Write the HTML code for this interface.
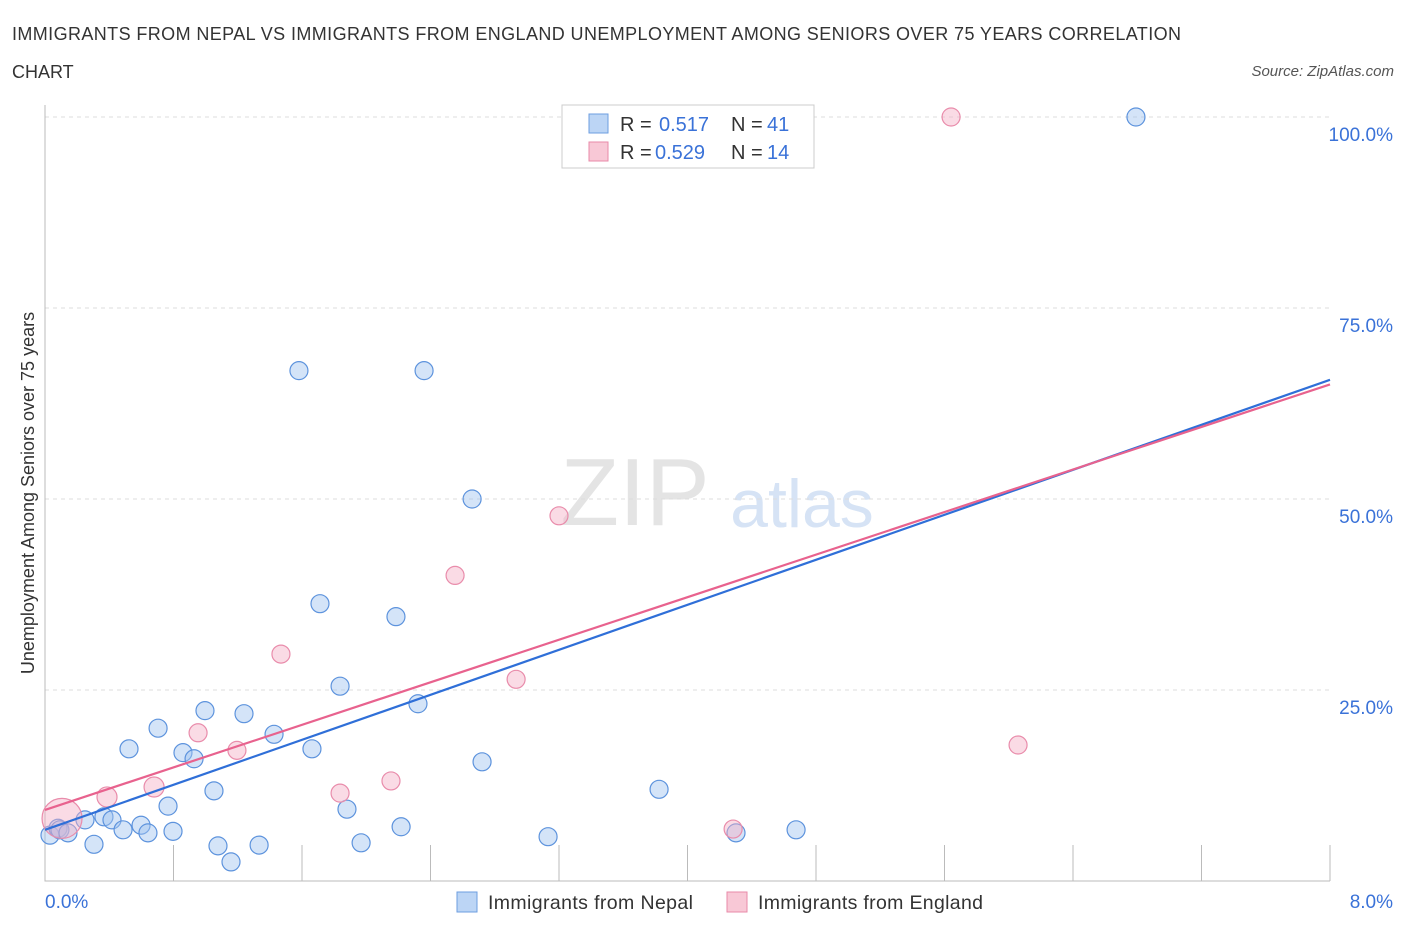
<!DOCTYPE html>
<html><head><meta charset="utf-8"><style>
body{margin:0;background:#fff;font-family:"Liberation Sans",sans-serif;}
svg text{font-family:"Liberation Sans",sans-serif;}
</style></head><body>
<svg width="1406" height="930" id="c">
<text x="12" y="40" font-size="18" fill="#333" textLength="1169">IMMIGRANTS FROM NEPAL VS IMMIGRANTS FROM ENGLAND UNEMPLOYMENT AMONG SENIORS OVER 75 YEARS CORRELATION</text>
<text x="12" y="78" font-size="18" fill="#333">CHART</text>
<text x="1394" y="76" font-size="15" fill="#555" font-style="italic" text-anchor="end">Source: ZipAtlas.com</text>
<text x="635" y="525" font-size="96" fill="#e4e4e4" font-family="Liberation Serif" text-anchor="middle">ZIP</text>
<text x="802" y="527" font-size="68" fill="#d6e3f5" text-anchor="middle">atlas</text>
<text transform="translate(34,493) rotate(-90)" font-size="18" fill="#333" text-anchor="middle">Unemployment Among Seniors over 75 years</text>
<g id="grid"></g><g id="pts"></g><g id="lines"></g>
<g>
<rect x="562" y="105" width="252" height="63" fill="#fff" stroke="#ccc"/>
<rect x="589" y="114" width="19" height="19" fill="#bcd5f5" stroke="#6d9ee0"/>
<text y="131" font-size="20" fill="#333"><tspan x="620">R =</tspan><tspan x="659" fill="#3a72d8">0.517</tspan><tspan x="731">N =</tspan><tspan x="767" fill="#3a72d8">41</tspan></text>
<rect x="589" y="142" width="19" height="19" fill="#f8c8d6" stroke="#e88aa8"/>
<text y="159" font-size="20" fill="#333"><tspan x="620">R =</tspan><tspan x="655" fill="#3a72d8">0.529</tspan><tspan x="731">N =</tspan><tspan x="767" fill="#3a72d8">14</tspan></text>
</g>
<g>
<rect x="457" y="892" width="20" height="20" fill="#bcd5f5" stroke="#6d9ee0"/>
<text x="488" y="909" font-size="19.5" fill="#333" textLength="205">Immigrants from Nepal</text>
<rect x="727" y="892" width="20" height="20" fill="#f8c8d6" stroke="#e88aa8"/>
<text x="758" y="909" font-size="19.5" fill="#333" textLength="225">Immigrants from England</text>
</g>
</svg>
<script>
const nepalX=[0.031,0.081,0.093,0.143,0.249,0.305,0.367,0.417,0.486,0.523,0.598,0.641,0.704,0.766,0.797,0.859,0.928,0.996,1.052,1.077,1.158,1.239,1.333,1.426,1.581,1.662,1.712,1.837,1.880,1.968,2.185,2.217,2.322,2.360,2.659,2.721,3.132,3.823,4.302,4.676,6.792];
const nepalY=[6.0,6.9,6.7,6.3,8.0,4.8,8.4,8.0,6.7,17.3,7.3,6.3,20.0,9.8,6.5,16.8,16.0,22.3,11.8,4.6,2.5,21.9,4.7,19.2,66.8,17.3,36.3,25.5,9.4,5.0,34.6,7.1,23.2,66.8,50.0,15.6,5.8,12.0,6.3,6.7,100];
const englandX=[0.106,0.386,0.679,0.953,1.195,1.469,1.837,2.154,2.553,2.933,3.200,4.284,5.641,6.058];
const englandY=[8.2,11.0,12.3,19.4,17.1,29.7,11.5,13.1,40.0,26.4,47.8,6.8,100,17.8];
const englandR=[20,10,10,9,9,9,9,9,9,9,9,9,9,9];
const nepalTrend=[6.7,65.6];
const englandTrend=[9.3,65.0];
const trendX=[0,8];
const yTicks=[25,50,75,100];
const yTickLabels=["25.0%","50.0%","75.0%","100.0%"];
const xTicks=[0,0.8,1.6,2.4,3.2,4.0,4.8,5.6,6.4,7.2,8.0];
const NS="http://www.w3.org/2000/svg";
const sx=v=>45+v/8*1285, sy=v=>881-v/100*764;
function mk(t,a,p){const e=document.createElementNS(NS,t);for(const k in a)e.setAttribute(k,a[k]);document.getElementById(p).appendChild(e);return e;}
yTicks.forEach((t,i)=>{
 const g=mk('line',{x1:45,x2:1330,y1:sy(t),y2:sy(t),stroke:'#ddd','stroke-dasharray':'4,4'},'grid');
 
 
 const l=mk('text',{x:1393,y:sy(t)+24,'font-size':19,fill:'#3a72d8','text-anchor':'end'},'grid');
 
 
 l.textContent=yTickLabels[i];
});
xTicks.forEach(t=>{
 const k=mk('line',{x1:sx(t),x2:sx(t),y1:845,y2:881,stroke:'#bbb'},'grid');
 
 
});
const ax=mk('path',{d:'M45 105V881H1330',fill:'none',stroke:'#bbb'},'grid');


const x0=mk('text',{x:45,y:908,'font-size':19,fill:'#3a72d8'},'grid');


x0.textContent='0.0%';
const x1=mk('text',{x:1393,y:908,'font-size':19,fill:'#3a72d8','text-anchor':'end'},'grid');


x1.textContent='8.0%';
nepalX.forEach((x,i)=>{
 const c=mk('circle',{cx:sx(x),cy:sy(nepalY[i]),r:9,fill:'rgba(160,195,240,0.45)',stroke:'#5d93dd','stroke-width':1.2},'pts');
 
 
});
englandX.forEach((x,i)=>{
 const c=mk('circle',{cx:sx(x),cy:sy(englandY[i]),r:englandR[i],fill:'rgba(245,175,198,0.45)',stroke:'#e98cab','stroke-width':1.2},'pts');
 
 
});
const lb=mk('line',{x1:sx(trendX[0]),y1:sy(nepalTrend[0]),x2:sx(trendX[1]),y2:sy(nepalTrend[1]),stroke:'#2f6fd8','stroke-width':2.2},'lines');


const lp=mk('line',{x1:sx(trendX[0]),y1:sy(englandTrend[0]),x2:sx(trendX[1]),y2:sy(englandTrend[1]),stroke:'#e8628e','stroke-width':2.2},'lines');


</script>
</body></html>
